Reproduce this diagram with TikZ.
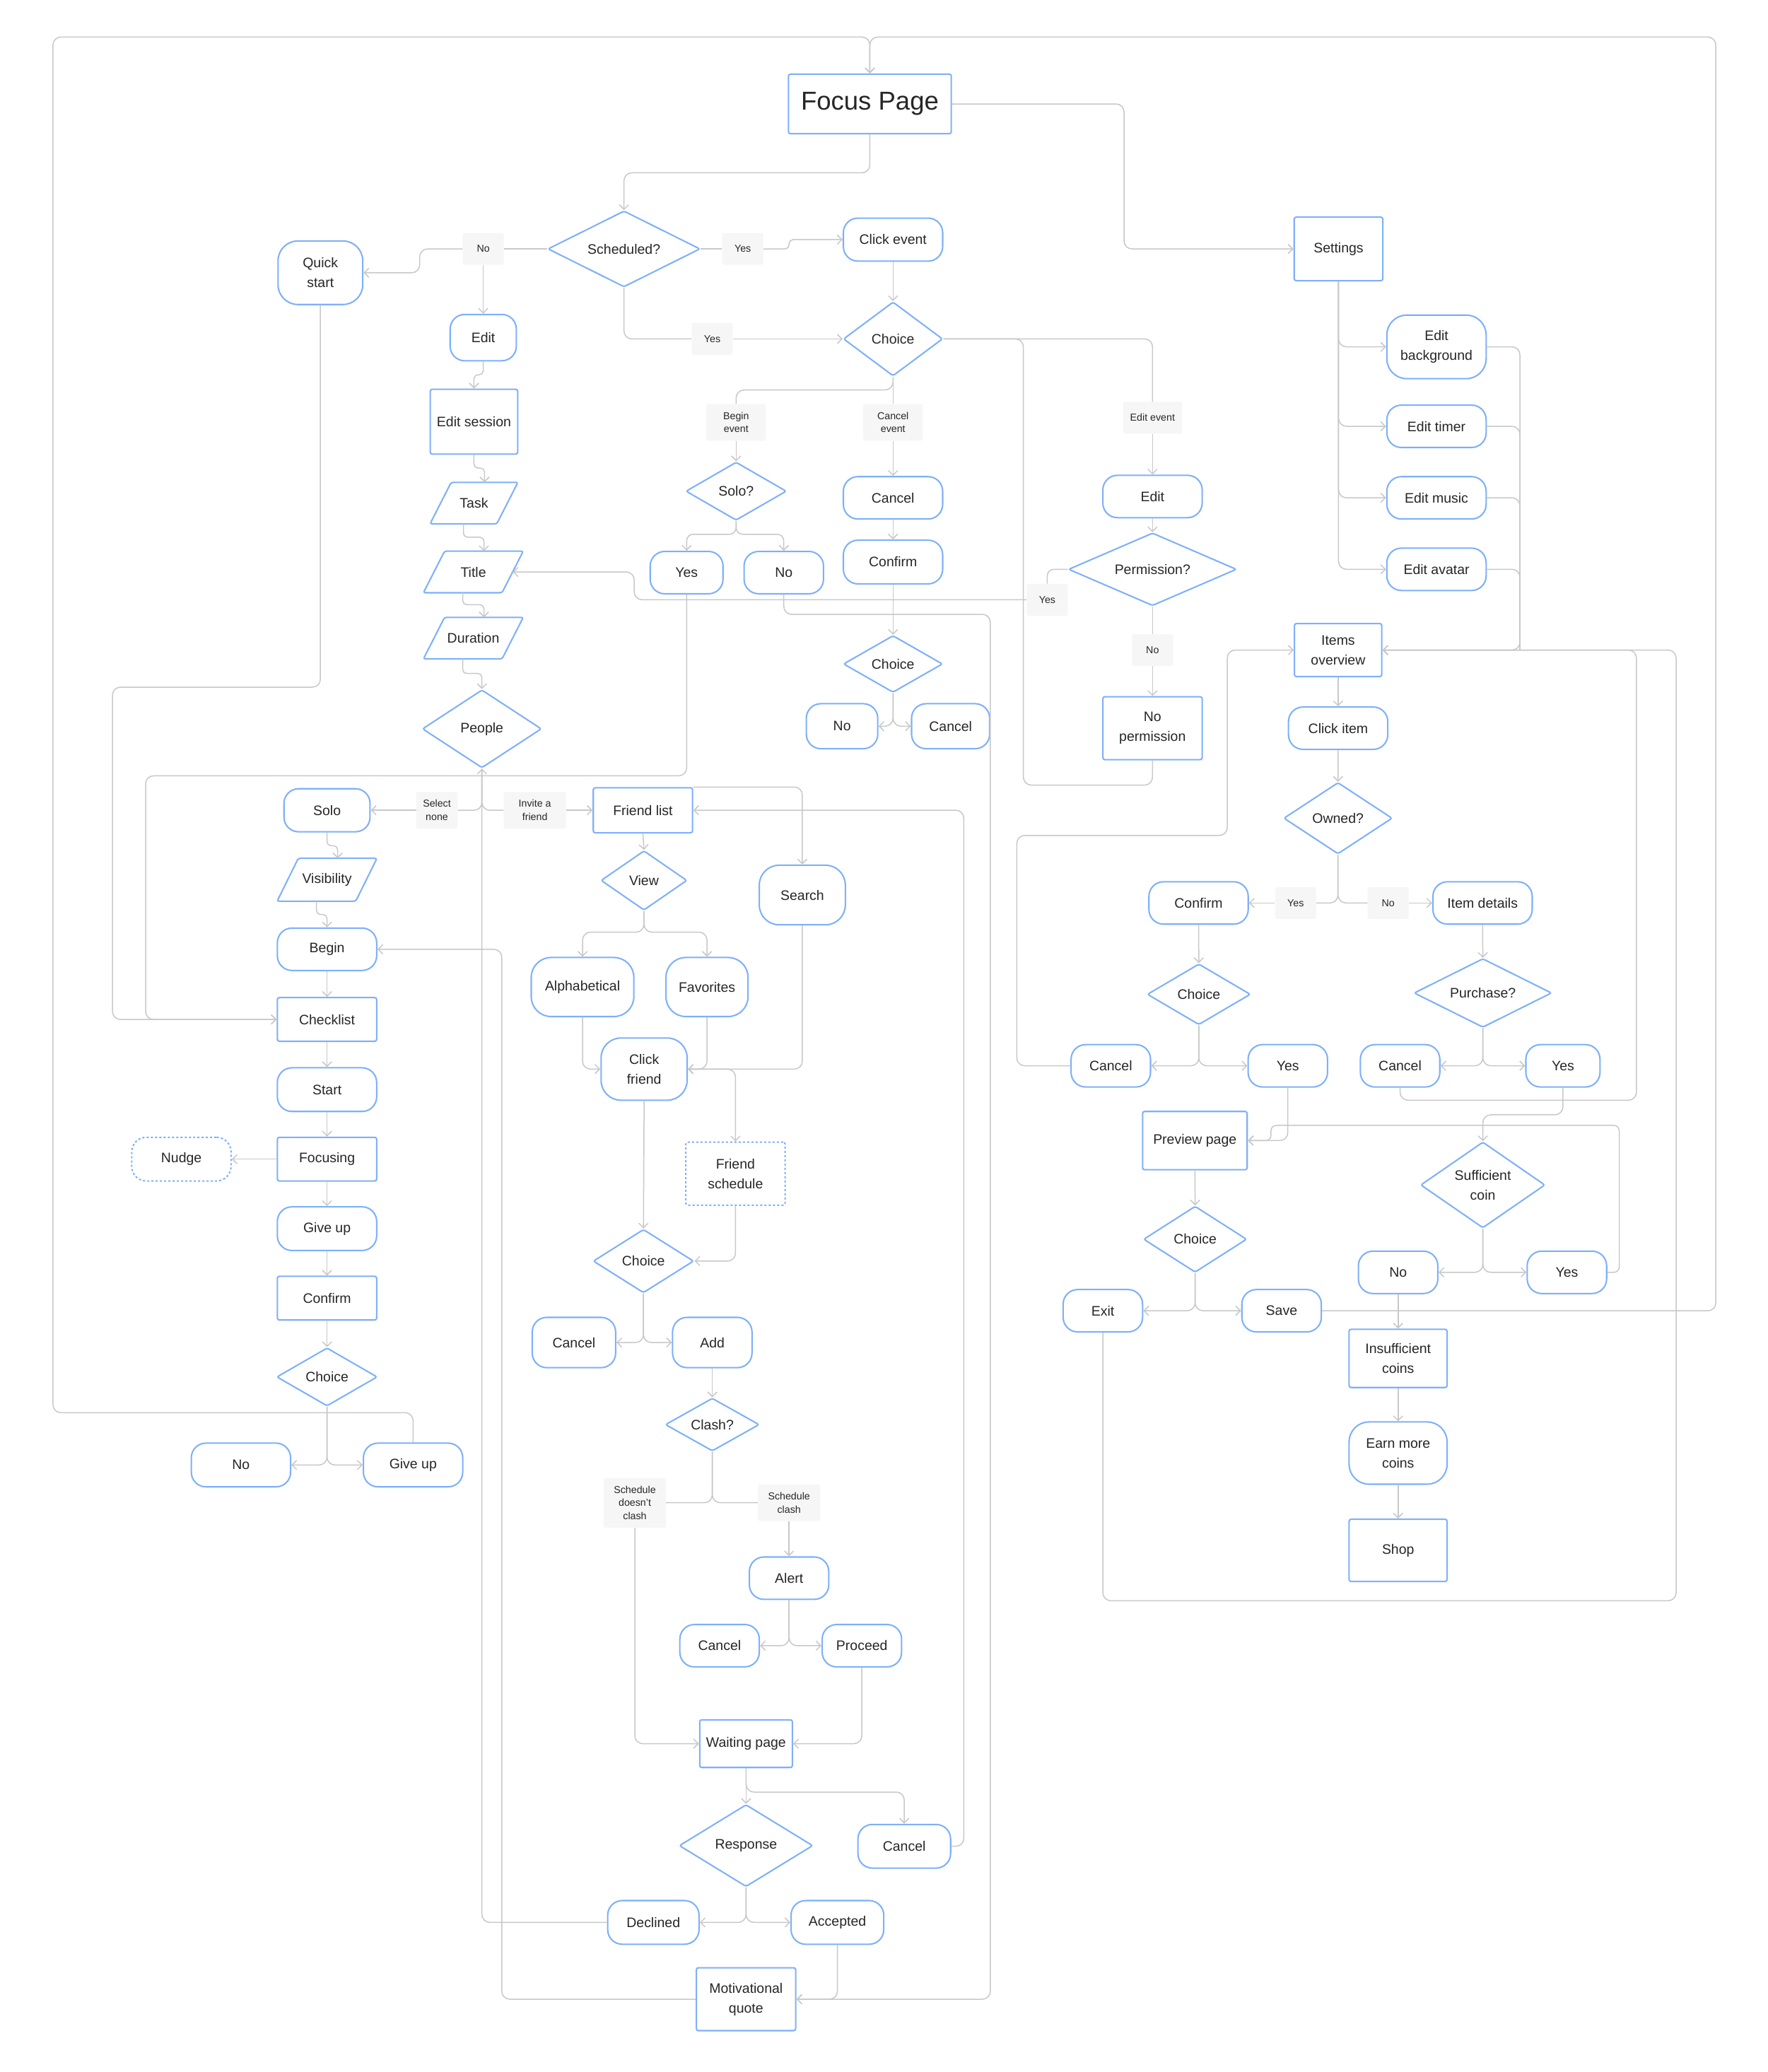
\documentclass[tikz,border=0pt]{standalone}
\usepackage{fontspec}
\setmainfont{Liberation Sans}
\usetikzlibrary{calc}
\usetikzlibrary{arrows.meta}
\usetikzlibrary{shapes.geometric}
\definecolor{nodeblue}{HTML}{7EB0FA}
\definecolor{linkgrey}{HTML}{C8C8C8}
\definecolor{tagfill}{HTML}{F6F6F6}
\definecolor{inkgrey}{HTML}{262626}
\newcommand\nodefont{\fontsize{10.4}{15}\selectfont}
\newcommand\tagfont{\fontsize{7.6}{10}\selectfont}
\newcommand\paraslant{16}
\tikzset{
  boxline/.style={draw=nodeblue, line width=1.1pt, rounded corners=1.5pt},
  box/.style={boxline, fill=white, text=inkgrey, font=\nodefont, align=center, inner sep=2pt},
  sbox/.style={box},
  rbox/.style={box, rounded corners=11pt},
  dotbox/.style={dash pattern=on 1.6pt off 1.6pt},
  dia/.style={box, diamond, aspect=2, inner sep=0pt},
  para/.style={text=inkgrey, font=\nodefont, align=center, inner sep=0pt},
  tag/.style={fill=tagfill, text=inkgrey, font=\tagfont, align=center, inner xsep=5pt, inner ysep=6pt, minimum height=24, minimum width=31, rounded corners=1.5pt},
  link/.style={draw=linkgrey, line width=0.8pt, rounded corners=6pt},
  arr/.style={link, -{Straight Barb[length=3.5pt,width=7pt]}},
}
\newcommand\paraframe[1]{%
  \draw[boxline] (#1.south west) -- ($(#1.south east)+(-\paraslant,0)$)
    -- (#1.north east) -- ($(#1.north west)+(\paraslant,0)$) -- cycle;
  \coordinate (#1-in) at ($(#1.north)+(\paraslant/2,0)$);
  \coordinate (#1-out) at ($(#1.south)+(-\paraslant/2,0)$);
  \coordinate (#1-r) at ($(#1.east)+(-\paraslant/2,0)$);
}
\begin{document}
\begin{tikzpicture}[x=1pt, y=-1pt]
    \path[use as bounding box, fill=white] (0,0) rectangle (1335,1565);

    \node[sbox, minimum width=123, minimum height=45, font=\fontsize{19.5}{22}\selectfont] (fp) at (657,78.5) {Focus Page};
    \node[dia, minimum width=115, minimum height=57.5] (sch) at (471.3,188) {Scheduled?};
    \node[rbox, minimum width=75, minimum height=32.5] (ce) at (674.5,181) {Click event};
    \node[rbox, minimum width=64, minimum height=48, rounded corners=15pt] (qs) at (242,206) {Quick\\start};
    \node[sbox, minimum width=67, minimum height=48] (set) at (1011,188) {Settings};
    \node[dia, minimum width=75, minimum height=56] (ch1) at (674.5,256) {Choice};
    \node[tag] (tno1) at (365,188) {No};
    \node[tag] (tyes1) at (561,188) {Yes};
    \node[tag] (tyes2) at (538,256) {Yes};

    \node[rbox, minimum width=50, minimum height=35] (edit) at (365,255) {Edit};
    \node[sbox, minimum width=66, minimum height=49] (esess) at (358,318.5) {Edit session};
    \node[para, minimum width=66, minimum height=31] (task) at (358,380) {Task};
    \node[para, minimum width=75, minimum height=31] (title) at (357.5,432) {Title};
    \node[para, minimum width=75, minimum height=31] (dur) at (357.5,482) {Duration};
    \paraframe{task}
    \paraframe{title}
    \paraframe{dur}
    \node[dia, minimum width=90, minimum height=59] (ppl) at (364,550.5) {People};
    \node[tag] (tsel) at (330,612) {Select\\none};
    \node[tag, minimum width=47] (tinv) at (404,612) {Invite a\\friend};

    \node[rbox, minimum width=65, minimum height=32.5] (solo) at (247,612) {Solo};
    \node[para, minimum width=75, minimum height=32] (vis) at (247,664.5) {Visibility};
    \paraframe{vis}
    \node[rbox, minimum width=75, minimum height=32] (begin) at (247,717) {Begin};
    \node[sbox, minimum width=75, minimum height=33] (chk) at (247,770) {Checklist};
    \node[rbox, minimum width=75, minimum height=33] (start) at (247,823) {Start};
    \node[sbox, minimum width=75, minimum height=33] (focus) at (247,875.5) {Focusing};
    \node[rbox, dotbox, minimum width=75, minimum height=33] (nudge) at (137,875.5) {Nudge};
    \node[rbox, minimum width=75, minimum height=33] (gup1) at (247,928) {Give up};
    \node[sbox, minimum width=75, minimum height=33] (conf3) at (247,980.5) {Confirm};
    \node[dia, minimum width=76, minimum height=44] (ch4) at (247,1040) {Choice};
    \node[rbox, minimum width=75, minimum height=33] (no4) at (182,1106.5) {No};
    \node[rbox, minimum width=75, minimum height=33] (gup2) at (312,1106.5) {Give up};

    \node[tag, minimum width=45] (tbeg) at (556,319) {Begin\\event};
    \node[tag, minimum width=45] (tcan) at (674.5,319) {Cancel\\event};
    \node[dia, minimum width=76, minimum height=44] (sq) at (556,371) {Solo?};
    \node[rbox, minimum width=55, minimum height=32] (yes3) at (518.6,432.5) {Yes};
    \node[rbox, minimum width=60, minimum height=32] (no3) at (592,432.5) {No};
    \node[rbox, minimum width=75, minimum height=32] (can1) at (674.5,376) {Cancel};
    \node[rbox, minimum width=75, minimum height=33] (conf1) at (674.5,424.5) {Confirm};
    \node[dia, minimum width=75, minimum height=43] (ch2) at (674.5,501.5) {Choice};
    \node[rbox, minimum width=54, minimum height=34] (no2) at (636,548.5) {No};
    \node[rbox, minimum width=59, minimum height=34] (can2) at (718,548.5) {Cancel};

    \node[tag, minimum width=44.6] (tedit) at (870.5,315.5) {Edit event};
    \node[rbox, minimum width=75, minimum height=32] (edit2) at (870.5,375) {Edit};
    \node[dia, minimum width=127, minimum height=55] (perm) at (870.5,430) {Permission?};
    \node[tag] (tno2) at (870.5,491) {No};
    \node[sbox, minimum width=75, minimum height=47.5] (nop) at (870.5,550) {No\\permission};
    \node[tag] (tyes3) at (791,453) {Yes};

    \node[sbox, minimum width=75, minimum height=34] (flist) at (485.6,612) {Friend list};
    \node[dia, minimum width=65, minimum height=45] (view) at (486.4,665) {View};
    \node[rbox, minimum width=65, minimum height=45, rounded corners=15pt] (search) at (606,676) {Search};
    \node[rbox, minimum width=77.5, minimum height=44.6, rounded corners=15pt] (alpha) at (440,745.5) {Alphabetical};
    \node[rbox, minimum width=62, minimum height=44.6, rounded corners=15pt] (fav) at (534,745.5) {Favorites};
    \node[rbox, minimum width=65, minimum height=47, rounded corners=15pt] (cf) at (486.5,807.5) {Click\\friend};
    \node[sbox, dotbox, minimum width=75, minimum height=47.7] (fsch) at (555.5,886.5) {Friend\\schedule};
    \node[dia, minimum width=76, minimum height=48] (ch5) at (486,952.5) {Choice};
    \node[rbox, minimum width=63, minimum height=38] (can5) at (433.5,1014) {Cancel};
    \node[rbox, minimum width=60, minimum height=38] (add) at (538,1014) {Add};
    \node[dia, minimum width=71, minimum height=40] (clash) at (538,1076) {Clash?};
    \node[tag, minimum width=46.8] (tnocl) at (479.5,1135) {Schedule\\doesn’t\\clash};
    \node[tag, minimum width=46.8] (tcl) at (596,1135) {Schedule\\clash};
    \node[rbox, minimum width=60, minimum height=32] (alert) at (596,1192) {Alert};
    \node[rbox, minimum width=60, minimum height=32] (can6) at (543.5,1243) {Cancel};
    \node[rbox, minimum width=60, minimum height=32] (proc) at (651,1243) {Proceed};
    \node[sbox, minimum width=70, minimum height=36] (wait) at (563.5,1317) {Waiting page};
    \node[dia, minimum width=101, minimum height=62] (resp) at (563.5,1394) {Response};
    \node[rbox, minimum width=70, minimum height=33] (can7) at (683,1394.5) {Cancel};
    \node[rbox, minimum width=69, minimum height=33] (decl) at (493.5,1452) {Declined};
    \node[rbox, minimum width=70, minimum height=33] (acc) at (632.5,1452) {Accepted};
    \node[sbox, minimum width=75, minimum height=47.5] (mq) at (563.5,1510) {Motivational\\quote};

    \node[rbox, minimum width=75, minimum height=48, rounded corners=15pt] (ebg) at (1085,262) {Edit\\background};
    \node[rbox, minimum width=75, minimum height=32] (etim) at (1085,322) {Edit timer};
    \node[rbox, minimum width=75, minimum height=32] (emus) at (1085,376) {Edit music};
    \node[rbox, minimum width=75, minimum height=32] (eava) at (1085,430) {Edit avatar};
    \node[sbox, minimum width=66, minimum height=40] (items) at (1010.7,491) {Items\\overview};
    \node[rbox, minimum width=75, minimum height=32] (citem) at (1010.7,550) {Click item};
    \node[dia, minimum width=82, minimum height=54] (owned) at (1010.6,618) {Owned?};
    \node[tag] (tyes4) at (978.6,682) {Yes};
    \node[tag] (tno4) at (1048.5,682) {No};
    \node[rbox, minimum width=75, minimum height=32] (conf8) at (905.3,682) {Confirm};
    \node[rbox, minimum width=75, minimum height=32] (idet) at (1119.8,682) {Item details};
    \node[dia, minimum width=78, minimum height=46] (ch8) at (905.5,751) {Choice};
    \node[rbox, minimum width=60, minimum height=32] (can8) at (839,805) {Cancel};
    \node[rbox, minimum width=60, minimum height=32] (yes8) at (972.7,805) {Yes};
    \node[dia, minimum width=104, minimum height=52] (purch) at (1120,750) {Purchase?};
    \node[rbox, minimum width=60, minimum height=32] (can9) at (1057.5,805) {Cancel};
    \node[rbox, minimum width=56, minimum height=32] (yes9) at (1180.5,805) {Yes};
    \node[sbox, minimum width=79, minimum height=44] (prev) at (902.5,861.5) {Preview page};
    \node[dia, minimum width=78, minimum height=50] (ch9) at (902.7,936) {Choice};
    \node[rbox, minimum width=60, minimum height=32] (exit) at (833,990) {Exit};
    \node[rbox, minimum width=60, minimum height=32] (save) at (968,990) {Save};
    \node[dia, minimum width=94, minimum height=65] (suff) at (1120,895) {Sufficient\\coin};
    \node[rbox, minimum width=60, minimum height=32] (sno) at (1056,961) {No};
    \node[rbox, minimum width=60, minimum height=32] (syes) at (1183.5,961) {Yes};
    \node[sbox, minimum width=74, minimum height=44] (insuf) at (1056,1026) {Insufficient\\coins};
    \node[rbox, minimum width=74, minimum height=47, rounded corners=15pt] (earn) at (1056,1097.5) {Earn more\\coins};
    \node[sbox, minimum width=74, minimum height=47] (shop) at (1056,1171) {Shop};

    \draw[arr] (gup2.north) |- (40,1067) |- (657,28) -- (fp.north);
    \draw[arr] (save.east) -| (1296,28) -| (fp.north);
    \draw[arr] (fp.south) -- ++(0,29) -| (sch.north);
    \draw[arr] (fp.east) -| (849,188) -- (set.west);

    \draw[link] (sch.west) -- (tno1.east);
    \draw[arr] (tno1.west) -- (317,188) |- (qs.east);
    \draw[arr] (tno1.south) -- (edit.north);
    \draw[link] (sch.east) -- (tyes1.west);
    \draw[arr, rounded corners=3pt] (tyes1.east) -- (596,188) |- (ce.west);
    \draw[link] (sch.south) |- (tyes2.west);
    \draw[arr] (tyes2.east) -- (ch1.west);
    \draw[arr] (ce.south) -- (ch1.north);

    \draw[link] (ch1.east) -| (tedit.north);
    \draw[arr] (tedit.south) -- (edit2.north);
    \draw[arr] (edit2.south) -- (perm.north);
    \draw[link] (perm.south) -- (tno2.north);
    \draw[arr] (tno2.south) -- (nop.north);
    \draw[link] (nop.south) |- (773,593) |- (ch1.east);
    \draw[link, rounded corners=5pt] (perm.west) -| (tyes3.north);
    \draw[arr] (tyes3.west) -| (479,432) -- (title-r);

    \draw[link] (ch1.south) -- ++(0,10) -| (tbeg.north);
    \draw[arr] (tbeg.south) -- (sq.north);
    \draw[link] (ch1.south) -- (tcan.north);
    \draw[arr] (tcan.south) -- (can1.north);
    \draw[arr] (can1.south) -- (conf1.north);
    \draw[arr] (conf1.south) -- (ch2.north);
    \draw[arr] (ch2.south) |- (no2.east);
    \draw[arr] (ch2.south) |- (can2.west);
    \draw[arr, rounded corners=5pt] (sq.south) -- ++(0,10) -| (yes3.north);
    \draw[arr, rounded corners=5pt] (sq.south) -- ++(0,10) -| (no3.north);
    \draw[arr] (yes3.south) |- (110,586) |- (chk.west);
    \draw[arr] (no3.south) |- (748,464) |- (mq.east);

    \draw[arr] (qs.south) |- (85,519) |- (chk.west);
    \draw[arr, rounded corners=3pt] (edit.south) -- ++(0,10) -| (esess.north);
    \draw[arr, rounded corners=3pt] (esess.south) -- ++(0,10) -| (task-in);
    \draw[arr, rounded corners=3pt] (task-out) -- ++(0,10) -| (title-in);
    \draw[arr, rounded corners=3pt] (title-out) -- ++(0,9) -| (dur-in);
    \draw[arr, rounded corners=3pt] (dur-out) -- ++(0,11) -| (ppl.north);

    \draw[link] (ppl.south) |- (tsel.east);
    \draw[arr] (tsel.west) -- (solo.east);
    \draw[link] (ppl.south) |- (tinv.west);
    \draw[arr] (tinv.east) -- (flist.west);
    \draw[arr] (decl.west) -| (ppl.south);
    \draw[arr] (mq.west) -| (379,717) -- (begin.east);

    \draw[arr, rounded corners=3pt] (solo.south) -- ++(0,10) -| (vis-in);
    \draw[arr, rounded corners=3pt] (vis-out) -- ++(0,10) -| (begin.north);
    \draw[arr] (begin.south) -- (chk.north);
    \draw[arr] (chk.south) -- (start.north);
    \draw[arr] (start.south) -- (focus.north);
    \draw[arr] (focus.west) -- (nudge.east);
    \draw[arr] (focus.south) -- (gup1.north);
    \draw[arr] (gup1.south) -- (conf3.north);
    \draw[arr] (conf3.south) -- (ch4.north);
    \draw[arr] (ch4.south) |- (no4.east);
    \draw[arr] (ch4.south) |- (gup2.west);

    \draw[arr] (flist.north east) -| (search.north);
    \draw[arr] (flist.south) -- (view.north);
    \draw[arr] (view.south) -- ++(0,16) -| (alpha.north);
    \draw[arr] (view.south) -- ++(0,16) -| (fav.north);
    \draw[arr] (alpha.south) |- (cf.west);
    \draw[arr] (fav.south) |- (cf.east);
    \draw[arr] (search.south) |- (cf.east);
    \draw[arr] (cf.east) -| (fsch.north);
    \draw[arr] (fsch.south) |- (ch5.east);
    \draw[arr] (cf.south) -- (ch5.north);
    \draw[arr] (ch5.south) |- (can5.east);
    \draw[arr] (ch5.south) |- (add.west);
    \draw[arr] (add.south) -- (clash.north);
    \draw[link] (clash.south) |- (tnocl.east);
    \draw[link] (clash.south) |- (tcl.west);
    \draw[arr] (tnocl.south) |- (wait.west);
    \draw[arr] (tcl.south) -- (alert.north);
    \draw[arr] (alert.south) |- (can6.east);
    \draw[arr] (alert.south) |- (proc.west);
    \draw[arr] (proc.south) |- (wait.east);
    \draw[arr] (wait.south) -- (resp.north);
    \draw[arr] (wait.south) -- ++(0,18) -| (can7.north);
    \draw[arr] (can7.east) -| (728,612) -- (flist.east);
    \draw[arr] (resp.south) |- (decl.east);
    \draw[arr] (resp.south) |- (acc.west);
    \draw[arr] (acc.south) |- (mq.east);

    \draw[arr] (set.south) |- (ebg.west);
    \draw[arr] (set.south) |- (etim.west);
    \draw[arr] (set.south) |- (emus.west);
    \draw[arr] (set.south) |- (eava.west);
    \draw[arr] (ebg.east) -| (1148,491) -- (items.east);
    \draw[link] (etim.east) -| (1148,491);
    \draw[link] (emus.east) -| (1148,491);
    \draw[link] (eava.east) -| (1148,491);

    \draw[arr] (items.south) -- (citem.north);
    \draw[arr] (citem.south) -- (owned.north);
    \draw[link] (owned.south) |- (tyes4.east);
    \draw[arr] (tyes4.west) -- (conf8.east);
    \draw[link] (owned.south) |- (tno4.west);
    \draw[arr] (tno4.east) -- (idet.west);
    \draw[arr] (conf8.south) -- (ch8.north);
    \draw[arr] (ch8.south) |- (can8.east);
    \draw[arr] (ch8.south) |- (yes8.west);
    \draw[arr] (can8.west) -| (768,631) -| (927,491) -- (items.west);
    \draw[arr] (yes8.south) |- (prev.east);
    \draw[arr] (idet.south) -- (purch.north);
    \draw[arr] (purch.south) |- (can9.east);
    \draw[arr] (purch.south) |- (yes9.west);
    \draw[arr] (can9.south) |- (1236,831) |- (items.east);
    \draw[arr] (yes9.south) |- (1120,842) -- (suff.north);
    \draw[arr, rounded corners=4pt] (syes.east) -| (1223,850) -| (960,861.5) -- (prev.east);
    \draw[arr] (prev.south) -- (ch9.north);
    \draw[arr] (ch9.south) |- (exit.east);
    \draw[arr] (ch9.south) |- (save.west);
    \draw[arr] (exit.south) |- (1266,1209) |- (items.east);
    \draw[arr] (suff.south) |- (sno.east);
    \draw[arr] (suff.south) |- (syes.west);
    \draw[arr] (sno.south) -- (insuf.north);
    \draw[arr] (insuf.south) -- (earn.north);
    \draw[arr] (earn.south) -- (shop.north);
\end{tikzpicture}
\end{document}
